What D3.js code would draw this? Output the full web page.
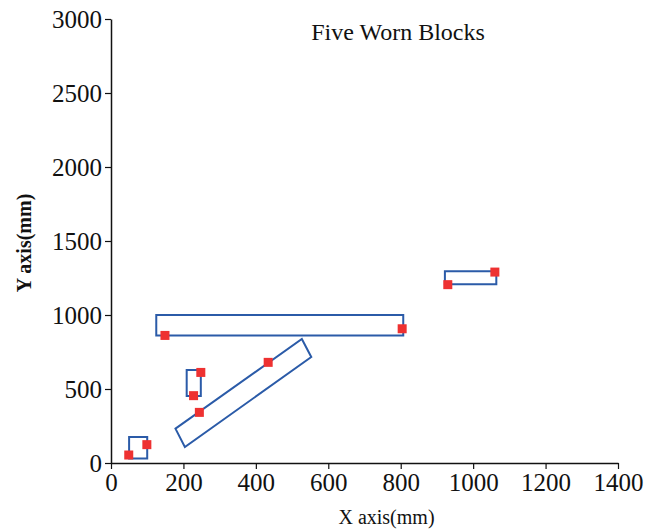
<!DOCTYPE html>
<html>
<head>
<meta charset="utf-8">
<script src="https://cdn.jsdelivr.net/npm/d3@7"></script>
<style>
  html, body { margin: 0; padding: 0; background: #fff; }
  svg { display: block; }
  text { font-family: "Liberation Serif", "Times New Roman", serif; fill: #111; }
</style>
</head>
<body>
<svg id="chart" width="667" height="532"></svg>
<script>
// Axis ranges and tick labels (mm)
const xTicks = [0, 200, 400, 600, 800, 1000, 1200, 1400];
const yTicks = [0, 500, 1000, 1500, 2000, 2500, 3000];

// Outline of each worn block, corner points in mm
const block1 = [[50, 30], [100, 30], [100, 175], [50, 175]];
const block2 = [[209, 453], [248, 453], [248, 628], [209, 628]];
const block3 = [[178, 232], [204, 108], [553, 716], [527, 838]];
const block4 = [[125, 862], [807, 862], [807, 1000], [125, 1000]];
const block5 = [[922, 1207], [1064, 1207], [1064, 1295], [922, 1295]];
const blocks = [block1, block2, block3, block4, block5];

// Measured wear points (mm)
const pointX = [49, 99, 248, 228, 244, 434, 149, 804, 930, 1060];
const pointY = [54, 124, 612, 455, 342, 680, 862, 907, 1205, 1290];

const svg = d3.select("#chart");
const margin = { left: 111, right: 49, top: 19, bottom: 69 };
const W = 667, H = 532;

const x = d3.scaleLinear().domain([0, 1400]).range([margin.left, W - margin.right]);
const y = d3.scaleLinear().domain([0, 3000]).range([H - margin.bottom, margin.top]);

// Axes
const fmt = d3.format("d");
const xAxis = svg.append("g")
  .attr("transform", `translate(0,${y(0)})`)
  .call(d3.axisBottom(x).tickValues(xTicks).tickFormat(fmt).tickSize(6).tickPadding(4).tickSizeOuter(0));
const yAxis = svg.append("g")
  .attr("transform", `translate(${x(0)},0)`)
  .call(d3.axisLeft(y).tickValues(yTicks).tickFormat(fmt).tickSize(6).tickPadding(3).tickSizeOuter(0));

[xAxis, yAxis].forEach(g => {
  g.select(".domain").attr("stroke", "#111").attr("stroke-width", 1.5);
  g.selectAll(".tick line").attr("stroke", "#111").attr("stroke-width", 1.2);
  g.selectAll(".tick text")
    .style("font-family", '"Liberation Serif", "Times New Roman", serif')
    .style("font-size", "25px")
    .attr("fill", "#111");
});

// Block outlines
const line = d3.line().x(d => x(d[0])).y(d => y(d[1]));
svg.append("g").selectAll("path")
  .data(blocks)
  .join("path")
  .attr("d", d => line(d) + "Z")
  .attr("fill", "none")
  .attr("stroke", "#2b5ba8")
  .attr("stroke-width", 2)
  .attr("stroke-linejoin", "miter");

// Wear points
const size = 9;
svg.append("g").selectAll("rect")
  .data(pointX.map((v, i) => [v, pointY[i]]))
  .join("rect")
  .attr("x", d => x(d[0]) - size / 2)
  .attr("y", d => y(d[1]) - size / 2)
  .attr("width", size)
  .attr("height", size)
  .attr("fill", "#ee3131");

// Titles
svg.append("text")
  .attr("x", 398).attr("y", 40)
  .attr("text-anchor", "middle")
  .style("font-size", "24px")
  .text("Five Worn Blocks");

svg.append("text")
  .attr("x", (x(0) + x(1400)) / 2 + 22).attr("y", 524)
  .attr("text-anchor", "middle")
  .style("font-size", "20px")
  .text("X axis(mm)");

svg.append("text")
  .attr("transform", `translate(31,${(y(0) + y(3000)) / 2 + 2}) rotate(-90)`)
  .attr("text-anchor", "middle")
  .style("font-size", "20px")
  .style("font-weight", "bold")
  .text("Y axis(mm)");
</script>
</body>
</html>
